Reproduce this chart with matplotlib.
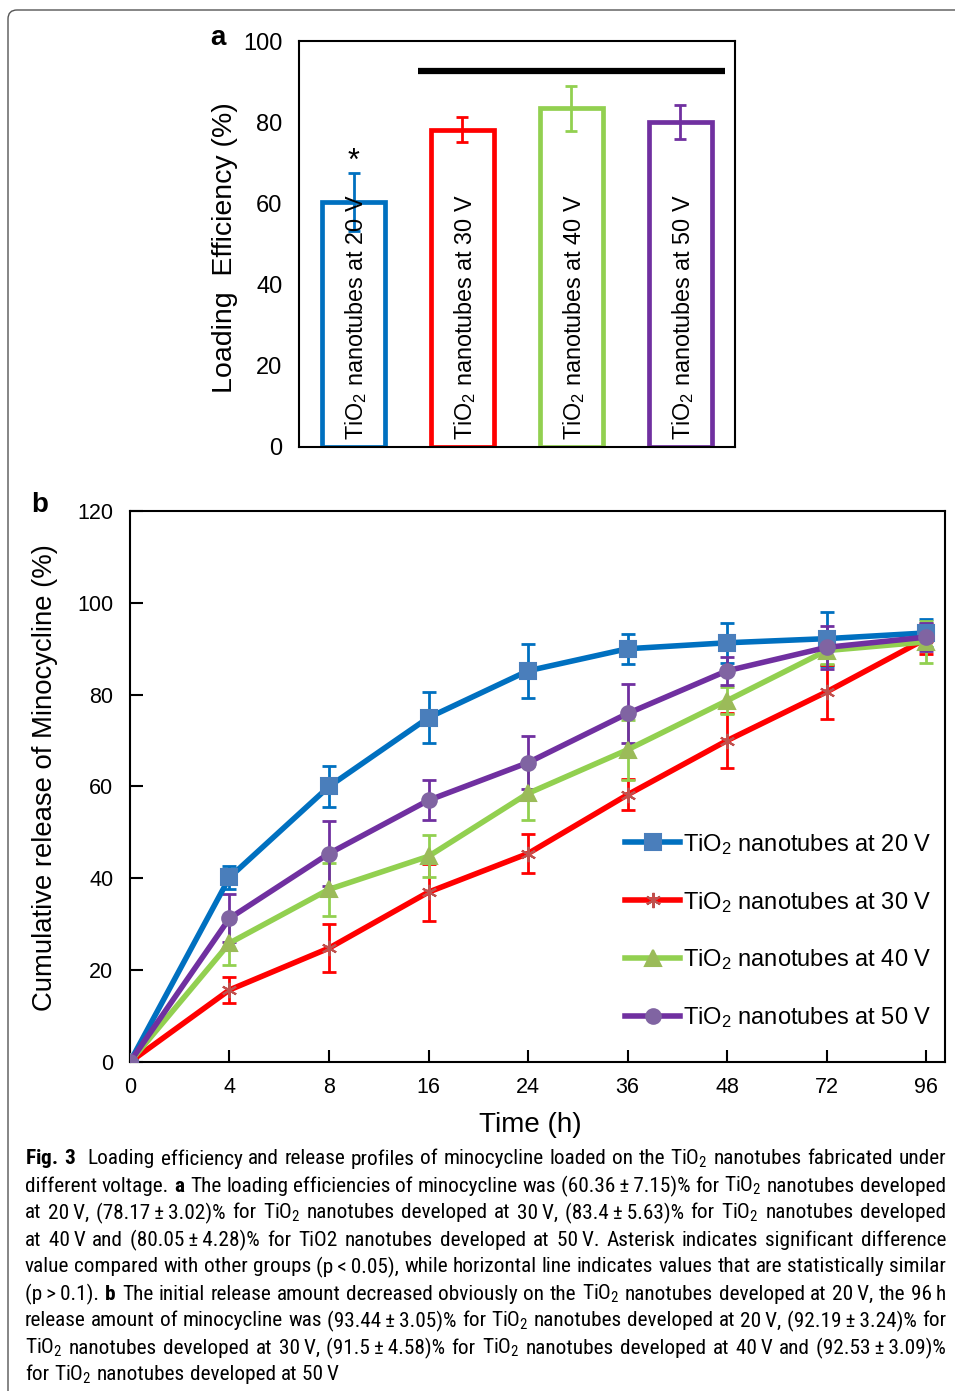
import matplotlib
matplotlib.use('Agg')
import matplotlib.pyplot as plt
from matplotlib import font_manager
from matplotlib.patches import FancyBboxPatch
from matplotlib.transforms import IdentityTransform
import numpy as np

# panel a: loading efficiency
voltages = ['20 V', '30 V', '40 V', '50 V']
loading = [60.36, 78.17, 83.4, 80.05]
loading_err = [7.15, 3.02, 5.63, 4.28]

# panel b: cumulative release
time_labels = ['0', '4', '8', '16', '24', '36', '48', '72', '96']
rel_20 = [0, 40.2, 60.0, 75.0, 85.2, 90.0, 91.3, 92.2, 93.44]
err_20 = [0, 2.5, 4.5, 5.5, 5.9, 3.3, 4.3, 5.9, 3.05]
rel_30 = [0, 15.7, 24.8, 37.0, 45.4, 58.2, 70.0, 80.6, 92.19]
err_30 = [0, 2.9, 5.3, 6.2, 4.2, 3.4, 5.9, 5.9, 3.24]
rel_40 = [0, 25.9, 37.6, 44.8, 58.5, 68.0, 78.7, 89.6, 91.5]
err_40 = [0, 4.8, 5.8, 4.6, 5.9, 6.5, 3.0, 3.0, 4.58]
rel_50 = [0, 31.3, 45.4, 57.0, 65.2, 75.9, 85.2, 90.3, 92.53]
err_50 = [0, 5.2, 7.0, 4.4, 5.7, 6.4, 3.1, 4.7, 3.09]

# thin space, keeps "20 V" or "60.36 ± 7.15" together as one word
ts = '\u2009'
caption_lines = [
    r"$\mathbf{Fig.\,3}$  Loading efficiency and release profiles of minocycline loaded on the TiO$_2$ nanotubes fabricated under",
    r"different voltage. $\mathbf{a}$ The loading efficiencies of minocycline was (60.36±7.15)% for TiO$_2$ nanotubes developed",
    r"at 20~V, (78.17±3.02)% for TiO$_2$ nanotubes developed at 30~V, (83.4±5.63)% for TiO$_2$ nanotubes developed",
    r"at 40~V and (80.05±4.28)% for TiO2 nanotubes developed at 50~V. Asterisk indicates significant difference",
    r"value compared with other groups (p<0.05), while horizontal line indicates values that are statistically similar",
    r"(p>0.1). $\mathbf{b}$ The initial release amount decreased obviously on the TiO$_2$ nanotubes developed at 20~V, the 96~h",
    r"release amount of minocycline was (93.44±3.05)% for TiO$_2$ nanotubes developed at 20~V, (92.19±3.24)% for",
    r"TiO$_2$ nanotubes developed at 30~V, (91.5±4.58)% for TiO$_2$ nanotubes developed at 40~V and (92.53±3.09)%",
    r"for TiO$_2$ nanotubes developed at 50~V",
]
caption_lines = [ln.replace('~', ts).replace('±', ts + '±' + ts)
                 .replace('<', ts + '<' + ts).replace('>', ts + '>' + ts) for ln in caption_lines]

bar_colors = ['#0070C0', '#FF0000', '#92D050', '#7030A0']
marker_colors = ['#4A7EBB', '#C0504D', '#9BBB59', '#8064A2']

# pick a narrow font for the caption if one is around
installed = {f.name for f in font_manager.fontManager.ttflist}
cap_font = 'Liberation Sans'
for cand in ['Liberation Sans Narrow', 'Roboto Condensed', 'Open Sans Condensed', 'DejaVu Sans Condensed']:
    if cand in installed:
        cap_font = cand
        break
cap_family = [cap_font, 'DejaVu Sans']

plt.rcParams['font.family'] = ['Liberation Sans', 'DejaVu Sans']
plt.rcParams['mathtext.fontset'] = 'custom'
plt.rcParams['mathtext.default'] = 'regular'
plt.rcParams['mathtext.rm'] = 'Liberation Sans'
plt.rcParams['mathtext.bf'] = cap_font + ':bold'

fig = plt.figure(figsize=(9.55, 13.91), dpi=100)

# rounded border
border = FancyBboxPatch((8, -40), 1000, 1421, boxstyle='round,pad=0,rounding_size=9',
                        transform=IdentityTransform(), facecolor='none',
                        edgecolor='#555555', lw=1.0)
fig.patches.append(border)

# ---- panel a ----
axa = fig.add_axes([0.3131, 0.67865, 0.4565, 0.29187])
x = np.arange(len(voltages))
axa.bar(x, loading, width=0.57, facecolor='white', edgecolor=bar_colors, linewidth=3.4)
for i in range(len(voltages)):
    axa.errorbar(x[i], loading[i], yerr=loading_err[i], fmt='none', ecolor=bar_colors[i],
                 elinewidth=2, capsize=4, capthick=2)
    axa.text(x[i] + 0.02, 1.8, 'TiO$_2$ nanotubes at ' + voltages[i], rotation=90,
             ha='center', va='bottom', fontsize=16.8)
axa.plot([0.59, 3.41], [92.6, 92.6], color='black', lw=4.5, solid_capstyle='butt')
axa.text(0, 70.3, '*', ha='center', va='center', fontsize=22)
axa.set_xlim(-0.5, 3.5)
axa.set_ylim(0, 100)
axa.set_yticks(np.arange(0, 101, 20))
axa.set_xticks([])
axa.tick_params(axis='y', direction='in', length=0, labelsize=17, pad=12)
for s in axa.spines.values():
    s.set_linewidth(1.5)
axa.set_ylabel('Loading  Efficiency (%)', fontsize=20.5)
axa.yaxis.set_label_coords(-0.14, 0.49)

# ---- panel b ----
axb = fig.add_axes([0.1361, 0.23652, 0.8534, 0.39612])
tx = np.arange(len(time_labels))
series = [(rel_20, err_20, 's', 11), (rel_30, err_30, (6, 2, 0), 11),
          (rel_40, err_40, '^', 11), (rel_50, err_50, 'o', 10.5)]
for i, (vals, errs, mk, ms) in enumerate(series):
    axb.errorbar(tx, vals, yerr=errs, fmt='none', ecolor=bar_colors[i],
                 elinewidth=2, capsize=5, capthick=2, zorder=2)
for i, (vals, errs, mk, ms) in enumerate(series):
    axb.plot(tx, vals, color=bar_colors[i], lw=4, marker=mk, markersize=ms,
             markerfacecolor=marker_colors[i], markeredgecolor=marker_colors[i],
             markeredgewidth=1.5, label='TiO$_2$ nanotubes at ' + voltages[i], zorder=3)
axb.set_xlim(0, 8.19)
axb.set_ylim(0, 120)
axb.set_xticks(tx)
axb.set_xticklabels(time_labels)
axb.set_yticks(np.arange(0, 121, 20))
axb.tick_params(direction='in', length=9, width=1.5, labelsize=15.5)
axb.tick_params(axis='y', pad=12)
axb.tick_params(axis='x', pad=11)
for s in axb.spines.values():
    s.set_linewidth(1.5)
axb.set_ylabel('Cumulative release of Minocycline (%)', fontsize=19.8)
axb.yaxis.set_label_coords(-0.088, 0.517)
axb.set_xlabel('Time (h)', fontsize=20)
axb.xaxis.set_label_coords(0.491, -0.09)
axb.legend(loc='upper left', bbox_to_anchor=(0.608, 0.418), frameon=False, fontsize=17,
           handlelength=2.3, handletextpad=0.15, labelspacing=1.4, borderpad=0,
           borderaxespad=0)

# panel letters
fig.text(218 / 955, 1 - 38 / 1391, 'a', fontsize=20, fontweight='bold', ha='center', va='center')
fig.text(40 / 955, 1 - 505 / 1391, 'b', fontsize=20, fontweight='bold', ha='center', va='center')

# caption, justified to the text block width
renderer = fig.canvas.get_renderer()
x0, x1 = 25, 946


def width_px(s, size):
    t = fig.text(0, 0, s, fontsize=size, family=cap_family)
    w = t.get_window_extent(renderer).width
    t.remove()
    return w


natural = max(width_px(line, 14) for line in caption_lines[:-1])
cap_size = 14 * (x1 - x0) / natural
space_w = width_px('a b', cap_size) - width_px('ab', cap_size)
for k, line in enumerate(caption_lines):
    y = 1 - (1159 + 27 * k) / 1391
    words = line.split(' ')
    widths = [width_px(wd, cap_size) for wd in words]
    if k < len(caption_lines) - 1 and len(words) > 1:
        gap = (x1 - x0 - sum(widths)) / (len(words) - 1)
    else:
        gap = space_w
    xpos = x0
    for wd, wdw in zip(words, widths):
        if wd:
            fig.text(xpos / 955, y, wd, fontsize=cap_size, family=cap_family,
                     ha='left', va='center')
        xpos += wdw + gap

fig.savefig('out.png', dpi=100)
